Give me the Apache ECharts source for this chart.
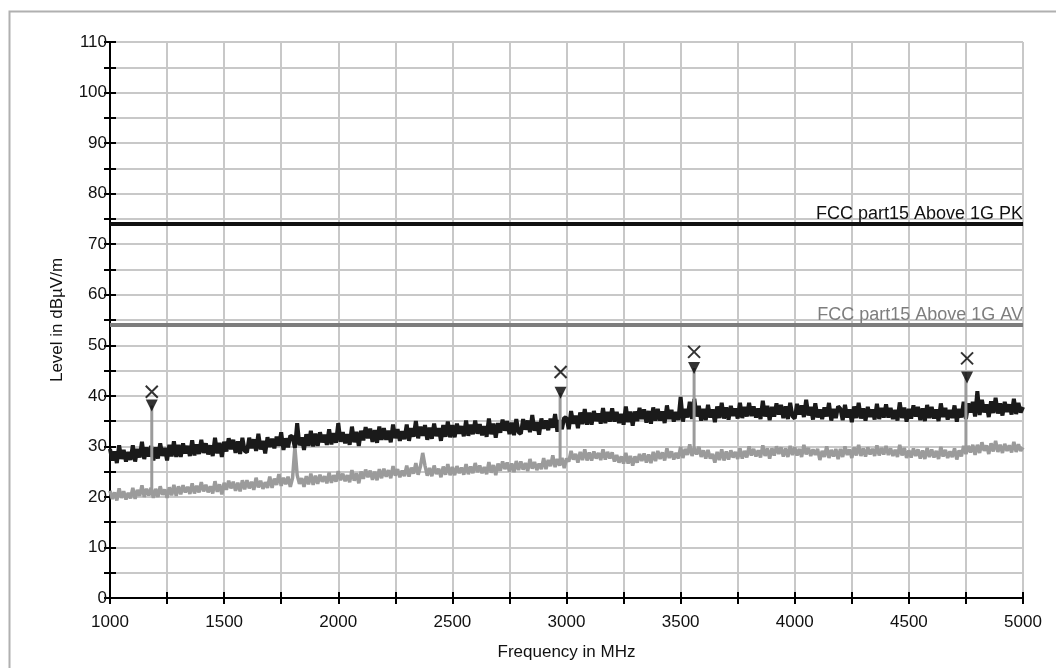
<!DOCTYPE html>
<html>
<head>
<meta charset="utf-8">
<title>EMC scan</title>
<script src="https://cdn.jsdelivr.net/npm/echarts@6/dist/echarts.min.js"></script>
<style>
  html, body { margin: 0; padding: 0; background: #fff; }
  #scanChart { width: 1056px; height: 668px; }
</style>
</head>
<body>
<div id="scanChart"></div>
<script>
// sweep grid (MHz): start + step * index
var freqStart = 1000;
var freqStep = 10;

// peak trace (dBuV/m), every 10 MHz, 200 MHz per row
var pkLevel = [
    29.5, 27.2, 29.0, 26.7, 30.2, 27.5, 29.3, 27.0, 28.9, 27.3, 30.2, 27.0, 29.5, 27.8, 30.9, 27.5, 29.8, 28.0, 30.1, 27.2,
    29.8, 27.6, 30.6, 28.1, 29.7, 27.2, 30.3, 28.0, 31.0, 27.9, 30.3, 27.9, 30.6, 28.6, 30.1, 28.1, 31.2, 28.2, 30.4, 28.5,
    31.3, 28.7, 30.6, 28.4, 30.2, 28.1, 31.7, 28.6, 30.7, 27.9, 30.9, 29.0, 31.6, 29.4, 31.3, 28.7, 31.0, 28.5, 31.7, 29.1,
    28.8, 31.7, 29.6, 31.4, 29.1, 32.5, 29.4, 31.1, 28.6, 31.8, 29.9, 31.5, 29.6, 31.9, 30.1, 32.8, 29.3, 31.6, 29.8, 32.1,
    31.9, 29.7, 34.6, 30.2, 31.8, 29.3, 32.4, 30.1, 33.1, 30.0, 32.5, 30.1, 32.8, 30.8, 32.3, 30.3, 33.4, 30.4, 32.6, 30.7,
    34.6, 30.9, 32.8, 30.6, 32.4, 30.3, 33.9, 30.8, 32.9, 30.1, 33.1, 31.2, 33.8, 31.6, 33.5, 30.9, 33.2, 30.7, 33.9, 31.3,
    33.6, 31.3, 33.1, 30.8, 34.3, 31.6, 33.4, 31.1, 33.0, 31.4, 34.3, 31.1, 33.6, 31.9, 35.0, 31.6, 33.9, 32.1, 34.2, 31.3,
    33.7, 31.5, 34.5, 32.0, 33.6, 31.1, 34.2, 31.9, 34.9, 31.8, 34.2, 31.8, 34.5, 32.5, 34.0, 32.0, 35.1, 32.1, 34.3, 32.4,
    35.1, 32.5, 34.4, 32.2, 34.0, 31.9, 35.5, 32.4, 34.5, 31.7, 34.6, 32.7, 35.3, 33.1, 35.0, 32.4, 34.7, 32.2, 35.4, 32.8,
    32.5, 35.4, 33.3, 35.1, 32.8, 36.2, 33.1, 34.8, 32.3, 35.5, 33.5, 35.1, 33.2, 35.5, 33.7, 36.4, 32.9, 35.2, 33.4, 35.7,
    35.6, 33.4, 37.0, 34.5, 36.1, 33.6, 36.7, 34.4, 37.4, 34.3, 36.7, 34.3, 37.0, 35.0, 36.5, 34.5, 37.6, 34.6, 36.8, 34.9,
    37.5, 34.9, 36.8, 34.6, 36.4, 34.3, 37.9, 34.8, 36.9, 34.1, 36.9, 35.0, 37.6, 35.4, 37.3, 34.7, 37.0, 34.5, 37.7, 35.1,
    37.4, 35.1, 36.9, 34.6, 38.1, 35.4, 37.2, 34.9, 36.8, 35.2, 39.8, 34.9, 37.4, 35.7, 38.8, 35.4, 39.4, 35.9, 38.0, 35.1,
    37.4, 35.2, 38.2, 35.7, 37.3, 34.8, 37.9, 35.6, 38.6, 35.5, 37.7, 35.3, 38.0, 36.0, 37.5, 35.5, 38.6, 35.6, 37.8, 35.9,
    38.6, 36.0, 37.9, 35.7, 37.5, 35.4, 39.0, 35.9, 38.0, 35.2, 37.8, 35.9, 38.5, 36.3, 38.2, 35.6, 37.9, 35.4, 38.6, 36.0,
    35.5, 38.4, 36.3, 38.1, 35.8, 39.2, 36.1, 37.8, 35.3, 38.5, 35.7, 37.3, 35.4, 37.7, 35.9, 38.6, 35.1, 37.4, 35.6, 37.9,
    37.4, 35.2, 38.2, 35.7, 37.3, 34.8, 37.9, 35.6, 38.6, 35.5, 37.5, 35.1, 37.8, 35.8, 37.3, 35.3, 38.4, 35.4, 37.6, 35.7,
    38.3, 35.7, 37.6, 35.4, 37.2, 35.1, 38.7, 35.6, 37.7, 34.9, 37.4, 35.5, 38.1, 35.9, 37.8, 35.2, 37.5, 35.0, 38.2, 35.6,
    37.8, 35.5, 37.3, 35.0, 38.5, 35.8, 37.6, 35.3, 37.2, 35.6, 38.1, 34.9, 37.4, 35.7, 38.8, 35.4, 38.5, 36.7, 38.8, 35.9,
    40.9, 36.2, 39.2, 36.7, 38.3, 35.8, 38.9, 36.6, 39.6, 36.5, 38.5, 36.1, 38.8, 36.8, 38.3, 36.3, 39.4, 36.4, 38.6, 36.7,
    37.8
];

// average trace (dBuV/m), same grid
var avLevel = [
    21.2, 19.6, 20.9, 19.3, 21.7, 19.8, 21.1, 19.5, 20.8, 19.7, 21.8, 19.6, 21.4, 20.2, 22.3, 20.0, 21.6, 20.3, 21.8, 19.8,
    21.6, 20.0, 22.1, 20.4, 21.5, 19.8, 21.9, 20.3, 22.4, 20.2, 22.1, 20.5, 22.3, 20.9, 22.0, 20.6, 22.7, 20.7, 22.2, 20.9,
    22.9, 21.1, 22.4, 20.9, 22.1, 20.7, 23.1, 21.0, 22.5, 20.5, 22.8, 21.4, 23.2, 21.7, 23.0, 21.2, 22.8, 21.1, 23.3, 21.5,
    23.3, 21.7, 23.0, 21.4, 23.8, 21.9, 23.2, 21.6, 22.9, 21.8, 24.0, 21.8, 23.6, 22.4, 24.5, 22.2, 23.8, 22.5, 24.0, 22.0,
    23.8, 29.9, 24.3, 22.6, 23.7, 22.0, 24.1, 22.5, 24.6, 22.4, 24.2, 22.6, 24.4, 23.0, 24.1, 22.7, 24.8, 22.8, 24.3, 23.0,
    25.1, 23.3, 24.6, 23.1, 24.3, 22.9, 25.3, 23.2, 24.7, 22.7, 25.0, 23.6, 25.4, 23.9, 25.2, 23.4, 25.0, 23.3, 25.5, 23.7,
    25.6, 24.0, 25.3, 23.7, 26.1, 24.2, 25.5, 23.9, 25.2, 24.1, 26.2, 24.0, 25.8, 24.6, 26.7, 24.4, 26.0, 28.7, 26.2, 24.2,
    25.7, 24.1, 26.2, 24.5, 25.6, 23.9, 26.0, 24.4, 26.5, 24.3, 25.9, 24.3, 26.1, 24.7, 25.8, 24.4, 26.5, 24.5, 26.0, 24.7,
    26.7, 24.9, 26.2, 24.7, 25.9, 24.5, 26.9, 24.8, 26.3, 24.3, 26.6, 25.2, 27.0, 25.5, 26.8, 25.0, 26.6, 24.9, 27.1, 25.3,
    27.0, 25.4, 26.7, 25.1, 27.5, 25.6, 26.9, 25.3, 26.6, 25.5, 27.7, 25.5, 27.3, 26.1, 28.2, 25.9, 27.5, 26.2, 27.7, 25.7,
    27.6, 27.0, 29.1, 27.4, 28.5, 26.8, 28.9, 27.3, 29.4, 27.2, 28.8, 27.2, 29.0, 27.6, 28.7, 27.3, 29.4, 27.4, 28.9, 27.6,
    28.8, 27.0, 28.3, 26.8, 28.0, 26.6, 28.7, 26.6, 28.1, 26.2, 28.0, 26.8, 28.5, 27.1, 28.6, 26.8, 28.4, 26.7, 28.9, 27.1,
    29.1, 27.5, 28.8, 27.2, 29.6, 27.7, 29.0, 27.4, 28.7, 27.6, 29.9, 27.7, 29.5, 28.3, 30.4, 28.1, 29.7, 28.4, 29.9, 27.9,
    29.2, 27.6, 29.3, 27.6, 28.5, 26.8, 28.9, 27.3, 29.4, 27.2, 29.0, 27.4, 29.2, 27.8, 28.9, 27.5, 29.6, 27.6, 29.1, 27.8,
    30.0, 28.2, 29.5, 28.0, 29.2, 27.8, 30.2, 28.1, 29.6, 27.6, 29.6, 28.2, 30.0, 28.5, 29.8, 28.0, 29.6, 27.9, 30.1, 28.3,
    29.8, 28.2, 29.5, 27.9, 30.3, 28.4, 29.7, 28.1, 29.4, 28.3, 29.5, 27.3, 29.1, 27.9, 30.0, 27.7, 29.3, 28.0, 29.5, 27.5,
    29.5, 27.9, 30.0, 28.3, 29.4, 27.7, 29.8, 28.2, 30.3, 28.1, 29.6, 28.0, 29.8, 28.4, 29.5, 28.1, 30.2, 28.2, 29.7, 28.4,
    30.1, 28.3, 29.6, 28.1, 29.3, 27.9, 30.3, 28.2, 29.7, 27.7, 29.2, 27.8, 29.6, 28.1, 29.4, 27.6, 29.2, 27.5, 29.7, 27.9,
    29.4, 27.8, 29.1, 27.5, 29.9, 28.0, 29.3, 27.7, 29.0, 27.9, 29.6, 27.4, 29.2, 28.0, 30.1, 28.5, 30.1, 28.8, 30.3, 28.3,
    30.3, 28.7, 30.8, 29.1, 30.2, 28.5, 30.6, 29.0, 31.1, 28.9, 30.3, 28.7, 30.5, 29.1, 30.2, 28.8, 30.9, 28.9, 30.4, 29.1,
    29.8
];

// thin signal spikes under the final markers
var spikeFreq = [1183, 2972, 3559, 4750];
var spikeBase = [20.9, 26.9, 28.9, 28.6];
var spikeTop  = [38.1, 40.6, 45.5, 43.6];

// final measurement markers
var markFreq = [1183, 2974, 3559, 4755];
var markAv   = [38.1, 40.6, 45.5, 43.6];   // triangle
var markPk   = [40.8, 44.7, 48.7, 47.4];   // cross

// limit lines
var limitNames = ['FCC part15 Above 1G PK', 'FCC part15 Above 1G AV'];
var limitLevel = [74, 54];
var freqRange  = [1000, 5000];

var textFont = 'Liberation Sans, Arial, sans-serif';

function toPairs(levels) {
    var list = [];
    for (var i = 0; i < levels.length; i++) {
        list.push([freqStart + freqStep * i, levels[i]]);
    }
    return list;
}

function spikeSeries(freqs, base, top, color, width) {
    var out = [];
    for (var i = 0; i < freqs.length; i++) {
        out.push({
            type: 'line',
            silent: true,
            symbol: 'none',
            lineStyle: { color: color, width: width },
            data: [[freqs[i], base[i]], [freqs[i], top[i]]],
            z: 4
        });
    }
    return out;
}

function limitSeries(idx, color) {
    return {
        type: 'line',
        silent: true,
        symbol: 'circle',
        symbolSize: 0,
        showSymbol: true,
        lineStyle: { color: color, width: 4 },
        itemStyle: { color: color },
        data: [
            [freqRange[0], limitLevel[idx]],
            {
                value: [freqRange[1], limitLevel[idx]],
                label: {
                    show: true,
                    position: 'top',
                    align: 'right',
                    distance: 1,
                    formatter: limitNames[idx],
                    color: color,
                    fontFamily: textFont,
                    fontSize: 18
                }
            }
        ],
        z: 3
    };
}

var chartDom = document.getElementById('scanChart');
var scanChart = echarts.init(chartDom);

var tickFmt = function (step) {
    return function (v) { return v % step === 0 ? String(v) : ''; };
};

var series = [
    {
        type: 'line',
        silent: true,
        symbol: 'none',
        lineStyle: { color: '#9b9b9b', width: 3.5, join: 'bevel' },
        data: toPairs(avLevel),
        z: 2
    },
    {
        type: 'line',
        silent: true,
        symbol: 'none',
        lineStyle: { color: '#1a1a1a', width: 4, join: 'bevel' },
        data: toPairs(pkLevel),
        z: 3
    },
    limitSeries(0, '#111111'),
    limitSeries(1, '#7d7d7d')
];

series = series.concat(spikeSeries(spikeFreq, spikeBase, spikeTop, '#9b9b9b', 3));

var avMarks = [], pkMarks = [];
for (var m = 0; m < markFreq.length; m++) {
    avMarks.push([markFreq[m], markAv[m]]);
    pkMarks.push([markFreq[m], markPk[m]]);
}

series.push({
    type: 'scatter',
    silent: true,
    symbol: 'triangle',
    symbolRotate: 180,
    symbolSize: [12, 12],
    itemStyle: { color: '#000' },
    data: avMarks,
    z: 6
});
series.push({
    type: 'scatter',
    silent: true,
    symbol: 'path://M0,0L10,10M10,0L0,10',
    symbolSize: 12,
    itemStyle: { color: 'none', borderColor: '#000', borderWidth: 2 },
    data: pkMarks,
    z: 6
});

var option = {
    animation: false,
    backgroundColor: '#fff',
    graphic: [{
        type: 'rect',
        left: 7,
        top: 9,
        shape: { width: 1200, height: 800 },
        style: { fill: 'none', stroke: '#b0b0b0', lineWidth: 2 },
        silent: true
    }],
    grid: { left: 110, right: 33, top: 42, bottom: 70 },
    xAxis: [
        {
            type: 'value',
            min: 1000,
            max: 5000,
            interval: 250,
            name: 'Frequency in MHz',
            nameLocation: 'middle',
            nameGap: 46,
            nameTextStyle: { color: '#111', fontFamily: textFont, fontSize: 17 },
            axisLine: { show: true, onZero: false, lineStyle: { color: '#000', width: 2 } },
            axisTick: { show: true, inside: false, length: 6, lineStyle: { color: '#000', width: 2 } },
            axisLabel: { formatter: tickFmt(500), color: '#111', fontFamily: textFont, fontSize: 17, margin: 16 },
            splitLine: { show: true, lineStyle: { color: '#c8c8c8', width: 2 } }
        },
        {
            type: 'value',
            min: 1000,
            max: 5000,
            interval: 250,
            position: 'bottom',
            axisLine: { show: true, onZero: false, lineStyle: { color: '#000', width: 2 } },
            axisTick: { show: true, inside: true, length: 6, lineStyle: { color: '#000', width: 2 } },
            axisLabel: { show: false },
            splitLine: { show: false }
        }
    ],
    yAxis: [
        {
            type: 'value',
            min: 0,
            max: 110,
            interval: 5,
            name: 'Level in dBµV/m',
            nameLocation: 'middle',
            nameGap: 44,
            nameRotate: 90,
            nameTextStyle: { color: '#111', fontFamily: textFont, fontSize: 17 },
            axisLine: { show: true, onZero: false, lineStyle: { color: '#000', width: 2 } },
            axisTick: { show: true, inside: false, length: 6, lineStyle: { color: '#000', width: 2 } },
            axisLabel: { formatter: tickFmt(10), color: '#111', fontFamily: textFont, fontSize: 17, margin: 3 },
            splitLine: { show: true, lineStyle: { color: '#c8c8c8', width: 2 } }
        },
        {
            type: 'value',
            min: 0,
            max: 110,
            interval: 5,
            position: 'left',
            axisLine: { show: true, onZero: false, lineStyle: { color: '#000', width: 2 } },
            axisTick: { show: true, inside: true, length: 6, lineStyle: { color: '#000', width: 2 } },
            axisLabel: { show: false },
            splitLine: { show: false }
        }
    ],
    series: series
};

scanChart.setOption(option);

window.onresize = function () {
    scanChart.resize();
};
</script>
</body>
</html>
